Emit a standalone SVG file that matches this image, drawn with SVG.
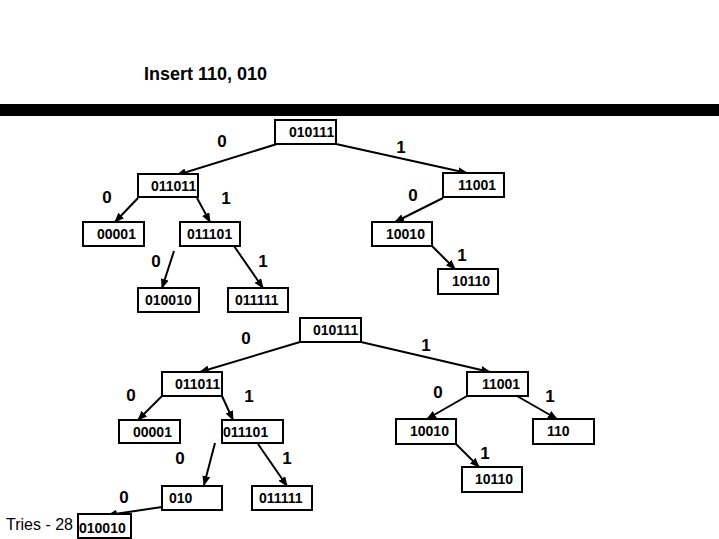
<svg xmlns="http://www.w3.org/2000/svg" width="719" height="539" viewBox="0 0 719 539">
<style>
.box{fill:#fff;stroke:#000;stroke-width:2}
.nt{font-family:"Liberation Sans",Arial,sans-serif;font-weight:bold;font-size:14px;fill:#000}
.el{font-family:"Liberation Sans",Arial,sans-serif;font-weight:bold;font-size:17px;fill:#000;text-anchor:middle}
.e{stroke:#000;stroke-width:2;fill:none;marker-end:url(#ah)}
</style>
<defs>
<marker id="ah" markerUnits="userSpaceOnUse" markerWidth="10" markerHeight="8" refX="9" refY="4" orient="auto">
<path d="M0,0 L10,4 L0,8 z" fill="#000"/>
</marker>
</defs>
<rect width="719" height="539" fill="#fff"/>
<text x="144" y="80" font-family="Liberation Sans,Arial,sans-serif" font-weight="bold" font-size="18">Insert 110, 010</text>
<rect x="0" y="104" width="719" height="12" fill="#000"/>
<text x="6" y="530" font-family="Liberation Sans,Arial,sans-serif" font-size="16">Tries - 28</text>

<g id="connectors">
<line class="e" x1="277" y1="144" x2="177" y2="175"/>
<line class="e" x1="336" y1="144" x2="467" y2="173"/>
<line class="e" x1="138" y1="198" x2="115" y2="222"/>
<line class="e" x1="197" y1="198" x2="210" y2="222"/>
<line class="e" x1="443" y1="198" x2="395" y2="222"/>
<line class="e" x1="174" y1="251" x2="162" y2="288"/>
<line class="e" x1="234" y1="246" x2="263" y2="288"/>
<line class="e" x1="432" y1="246" x2="455" y2="269"/>

<line class="e" x1="300" y1="342" x2="200" y2="372"/>
<line class="e" x1="361" y1="342" x2="490" y2="372"/>
<line class="e" x1="162" y1="396" x2="138" y2="420"/>
<line class="e" x1="222" y1="396" x2="233" y2="420"/>
<line class="e" x1="215" y1="443" x2="204" y2="485"/>
<line class="e" x1="258" y1="444" x2="287" y2="486"/>
<line class="e" x1="162" y1="507" x2="108" y2="515"/>
<line class="e" x1="467" y1="396" x2="427" y2="419"/>
<line class="e" x1="517" y1="396" x2="557" y2="419"/>
<line class="e" x1="456" y1="444" x2="479" y2="467"/>

<text class="el" x="222" y="147">0</text>
<text class="el" x="401" y="153">1</text>
<text class="el" x="107" y="203">0</text>
<text class="el" x="226" y="204">1</text>
<text class="el" x="413" y="201">0</text>
<text class="el" x="156" y="267">0</text>
<text class="el" x="263" y="267">1</text>
<text class="el" x="462" y="261">1</text>

<text class="el" x="246" y="344">0</text>
<text class="el" x="426" y="351">1</text>
<text class="el" x="131" y="401">0</text>
<text class="el" x="249" y="402">1</text>
<text class="el" x="180" y="464">0</text>
<text class="el" x="287" y="464">1</text>
<text class="el" x="124" y="503">0</text>
<text class="el" x="438" y="398">0</text>
<text class="el" x="550" y="402">1</text>
<text class="el" x="485" y="459">1</text>
</g>

<g id="t1-010111"><rect class="box" x="275" y="120" width="61" height="24"/><text class="nt" x="289" y="137">010111</text></g>
<g id="t1-011011"><rect class="box" x="138" y="174" width="60" height="23"/><text class="nt" x="151" y="191">011011</text></g>
<g id="t1-00001"><rect class="box" x="83" y="222" width="61" height="24"/><text class="nt" x="97" y="239">00001</text></g>
<g id="t1-011101"><rect class="box" x="180" y="222" width="60" height="24"/><text class="nt" x="187" y="239">011101</text></g>
<g id="t1-010010"><rect class="box" x="138" y="288" width="61" height="24"/><text class="nt" x="145" y="305">010010</text></g>
<g id="t1-011111"><rect class="box" x="228" y="288" width="60" height="24"/><text class="nt" x="235" y="305">011111</text></g>
<g id="t1-11001"><rect class="box" x="443" y="173" width="61" height="24"/><text class="nt" x="458" y="190">11001</text></g>
<g id="t1-10010"><rect class="box" x="372" y="222" width="60" height="24"/><text class="nt" x="386" y="239">10010</text></g>
<g id="t1-10110"><rect class="box" x="438" y="269" width="60" height="25"/><text class="nt" x="452" y="286">10110</text></g>

<g id="t2-010111"><rect class="box" x="300" y="318" width="61" height="24"/><text class="nt" x="313" y="335">010111</text></g>
<g id="t2-011011"><rect class="box" x="162" y="372" width="60" height="24"/><text class="nt" x="175" y="389">011011</text></g>
<g id="t2-00001"><rect class="box" x="119" y="420" width="61" height="23"/><text class="nt" x="133" y="437">00001</text></g>
<g id="t2-011101"><rect class="box" x="222" y="420" width="61" height="23"/><text class="nt" x="223" y="437">011101</text></g>
<g id="t2-010"><rect class="box" x="162" y="486" width="60" height="24"/><text class="nt" x="169" y="503">010</text></g>
<g id="t2-011111"><rect class="box" x="252" y="486" width="60" height="24"/><text class="nt" x="259" y="503">011111</text></g>
<g id="t2-010010"><rect class="box" x="78" y="514" width="53" height="24"/><text class="nt" x="79" y="533">010010</text></g>
<g id="t2-11001"><rect class="box" x="467" y="372" width="61" height="24"/><text class="nt" x="482" y="389">11001</text></g>
<g id="t2-10010"><rect class="box" x="396" y="419" width="60" height="25"/><text class="nt" x="410" y="436">10010</text></g>
<g id="t2-110"><rect class="box" x="533" y="419" width="61" height="25"/><text class="nt" x="547" y="436">110</text></g>
<g id="t2-10110"><rect class="box" x="462" y="467" width="60" height="25"/><text class="nt" x="475" y="484">10110</text></g>
</svg>
